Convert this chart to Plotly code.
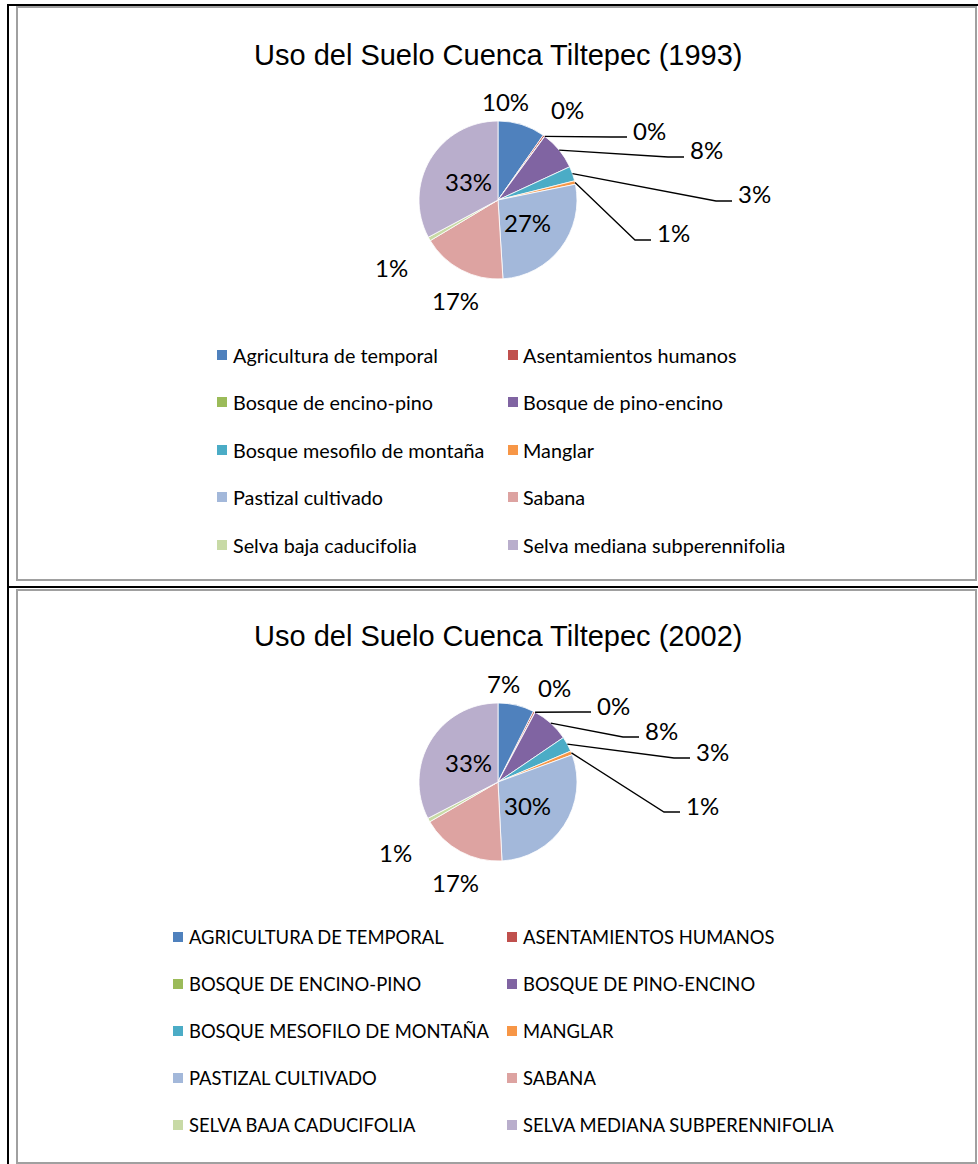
import math
import plotly.graph_objects as go

# ---- data -------------------------------------------------------------
categories_1993 = [
    "Agricultura de temporal", "Asentamientos humanos", "Bosque de encino-pino",
    "Bosque de pino-encino", "Bosque mesofilo de montaña", "Manglar",
    "Pastizal cultivado", "Sabana", "Selva baja caducifolia",
    "Selva mediana subperennifolia",
]
categories_2002 = [c.upper() for c in categories_1993]

share_1993 = [9.7, 0.35, 0.05, 8.0, 3.0, 0.7, 27.2, 17.4, 0.8, 32.8]
share_2002 = [7.4, 0.35, 0.05, 7.7, 3.1, 0.8, 29.8, 17.4, 0.8, 32.6]

colors = ["#4F81BD", "#C0504D", "#9BBB59", "#8064A2", "#4BACC6", "#F79646",
          "#A3B8DA", "#DDA3A1", "#C8DAA6", "#B9AECC"]

titles = ["Uso del Suelo Cuenca Tiltepec (1993)",
          "Uso del Suelo Cuenca Tiltepec (2002)"]

# ---- page geometry (pixels) -------------------------------------------
W, H = 978, 1164


def px(x):
    return x / W


def py(y):
    return 1 - y / H


panels = [
    dict(title_y=55, cx=498, cy=200, r=79, leg_size=19.8,
         leg_cols=[(217, 231), (508, 521)], leg_rows=[355, 402, 450, 497, 545],
         # label placement per slice: (kind, x, y) ; kind "c" centred, "l" left with leader
         labels=[("c", 505, 101), ("c", 567, 109), ("l", 633, 130), ("l", 690, 150),
                 ("l", 738, 194), ("l", 657, 233), ("c", 527, 222), ("c", 455, 301),
                 ("c", 391, 268), ("c", 468, 181)]),
    dict(title_y=636, cx=498, cy=782, r=79, leg_size=18.4,
         leg_cols=[(173, 187), (507, 521)], leg_rows=[937, 984, 1031, 1078, 1125],
         labels=[("c", 503, 683), ("c", 554, 687), ("l", 597, 705), ("l", 645, 730),
                 ("l", 696, 751), ("l", 686, 805), ("c", 527, 805), ("c", 455, 882),
                 ("c", 395, 853), ("c", 468, 762)]),
]

series = [(categories_1993, share_1993), (categories_2002, share_2002)]

fig = go.Figure()
shapes = []
annotations = []

# frame lines around the two panels
shapes.append(dict(type="line", xref="paper", yref="paper", x0=px(8), x1=px(8),
                   y0=py(4), y1=py(H), line=dict(color="black", width=2)))
shapes.append(dict(type="line", xref="paper", yref="paper", x0=px(7), x1=px(W),
                   y0=py(5), y1=py(5), line=dict(color="black", width=2)))
shapes.append(dict(type="line", xref="paper", yref="paper", x0=px(7), x1=px(W),
                   y0=py(587), y1=py(587), line=dict(color="black", width=2)))
for top, bottom in [(7, 580), (590, 1163)]:
    shapes.append(dict(type="rect", xref="paper", yref="paper", x0=px(17), x1=px(976),
                       y0=py(bottom), y1=py(top),
                       line=dict(color="#A0A0A0", width=2)))

label_font = dict(family="Lato", size=24, color="black")

for k, (panel, (cats, vals)) in enumerate(zip(panels, series)):
    cx, cy, r = panel["cx"], panel["cy"], panel["r"]
    fig.add_trace(go.Pie(
        labels=cats, values=vals, sort=False, direction="clockwise", rotation=0,
        marker=dict(colors=colors, line=dict(color="white", width=0.8)),
        textinfo="none", hoverinfo="label+percent", showlegend=False,
        domain=dict(x=[px(cx - r), px(cx + r)], y=[py(cy + r), py(cy - r)]),
    ))

    annotations.append(dict(text=titles[k], xref="paper", yref="paper",
                            x=px(498), y=py(panel["title_y"]), xanchor="center",
                            yanchor="middle", showarrow=False,
                            font=dict(family="Liberation Sans", size=29, color="black")))

    total = sum(vals)
    cum = 0.0
    for v, (kind, lx, ly) in zip(vals, panel["labels"]):
        pct = v / total * 100
        mid = (cum + pct / 2) / 100 * 2 * math.pi
        cum += pct
        text = f"{round(pct):.0f}%"
        if kind == "c":
            annotations.append(dict(text=text, xref="paper", yref="paper", x=px(lx), y=py(ly),
                                    xanchor="center", yanchor="middle", showarrow=False,
                                    font=label_font))
        else:
            annotations.append(dict(text=text, xref="paper", yref="paper", x=px(lx - 2), y=py(ly),
                                    xanchor="left", yanchor="middle", showarrow=False,
                                    font=label_font))
            ex, ey = cx + r * math.sin(mid), cy - r * math.cos(mid)
            ly2 = ly + 7
            path = (f"M {px(ex)} {py(ey)} L {px(lx - 22)} {py(ly2)} "
                    f"L {px(lx - 6)} {py(ly2)}")
            shapes.append(dict(type="path", xref="paper", yref="paper", path=path,
                               line=dict(color="black", width=1.3)))

    # two-column legend
    legend_font = dict(family="Lato", size=panel["leg_size"], color="black")
    for i, (name, col) in enumerate(zip(cats, colors)):
        (mx, tx) = panel["leg_cols"][i % 2]
        ry = panel["leg_rows"][i // 2]
        shapes.append(dict(type="rect", xref="paper", yref="paper",
                           x0=px(mx), x1=px(mx + 10), y0=py(ry + 5), y1=py(ry - 5),
                           fillcolor=col, line=dict(width=0)))
        annotations.append(dict(text=name, xref="paper", yref="paper", x=px(tx), y=py(ry),
                                xanchor="left", yanchor="middle", showarrow=False,
                                font=legend_font))

fig.update_layout(width=W, height=H, autosize=False,
                  margin=dict(l=0, r=0, t=0, b=0),
                  paper_bgcolor="white", plot_bgcolor="white",
                  shapes=shapes, annotations=annotations)

fig.write_html("out.html")
